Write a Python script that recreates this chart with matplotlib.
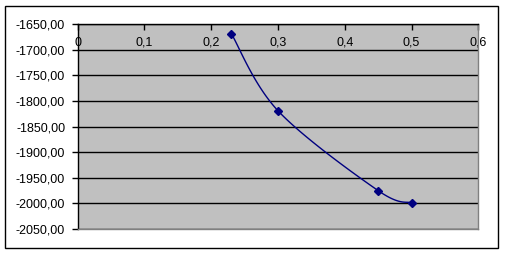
import numpy as np
import matplotlib.pyplot as plt
from matplotlib.patches import Rectangle
from matplotlib.ticker import FuncFormatter

plt.rcParams['font.family'] = ['Liberation Sans', 'DejaVu Sans']

# data
x_vals = [0.23, 0.30, 0.45, 0.50]
y_vals = [-1668, -1819, -1975, -1999]

xlim = (0, 0.6)
ylim = (-2050, -1650)


def smooth(xs, ys, n=40):
    # Catmull-Rom style smoothing (like Excel's "smoothed line"), done in
    # normalised axis space so both scales weigh the same
    px = (np.array(xs) - xlim[0]) / (xlim[1] - xlim[0])
    py = (np.array(ys) - ylim[0]) / (ylim[1] - ylim[0])
    pts = np.column_stack([px, py])
    pts = np.vstack([pts[0], pts, pts[-1]])
    out = []
    for i in range(1, len(pts) - 2):
        p0, p1, p2, p3 = pts[i - 1], pts[i], pts[i + 1], pts[i + 2]
        c1 = p1 + (p2 - p0) / 6.0
        c2 = p2 - (p3 - p1) / 6.0
        t = np.linspace(0, 1, n)[:, None]
        seg = ((1 - t) ** 3) * p1 + 3 * ((1 - t) ** 2) * t * c1 + 3 * (1 - t) * t ** 2 * c2 + t ** 3 * p2
        out.append(seg if i == 1 else seg[1:])
    out = np.vstack(out)
    return (out[:, 0] * (xlim[1] - xlim[0]) + xlim[0],
            out[:, 1] * (ylim[1] - ylim[0]) + ylim[0])


fig = plt.figure(figsize=(5.05, 2.54), dpi=100, facecolor='white')
ax = fig.add_axes([77.7 / 505, 1 - 229 / 254, (478.3 - 77.7) / 505, (229 - 24.3) / 254])
ax.set_facecolor('#C0C0C0')

# outer chart frame
fig.patches.append(Rectangle((5 / 505, 6 / 254), 493 / 505, 242 / 254, transform=fig.transFigure,
                             fill=False, edgecolor='black', linewidth=1.0))

ax.set_xlim(*xlim)
ax.set_ylim(*ylim)
ax.set_yticks(np.arange(-2050, -1649, 50))
ax.set_xticks(np.arange(0, 0.61, 0.1))
ax.yaxis.grid(True, color='black', linewidth=1.0)
ax.set_axisbelow(True)

ax.yaxis.set_major_formatter(FuncFormatter(lambda v, p: f"{v:.2f}".replace('.', ',')))
ax.xaxis.set_major_formatter(FuncFormatter(lambda v, p: "0" if abs(v) < 1e-9 else f"{v:.1f}".replace('.', ',')))

ax.tick_params(axis='y', direction='out', length=4, width=1, pad=5, labelsize=9, colors='black')
ax.tick_params(axis='x', direction='in', length=4, width=1, bottom=False, labelbottom=False,
               top=True, labeltop=True, pad=-17.5, labelsize=9)

ax.spines['top'].set_color('black')
ax.spines['left'].set_color('black')
ax.spines['bottom'].set_color('#808080')
ax.spines['right'].set_color('#808080')
for s in ax.spines.values():
    s.set_linewidth(1.0)

sx, sy = smooth(x_vals, y_vals)
ax.plot(sx, sy, color='#000080', linewidth=1.0, zorder=3)
ax.plot(x_vals, y_vals, linestyle='none', marker='D', markersize=4, color='#000080', zorder=4)

fig.savefig('out.png', dpi=100, facecolor='white')
